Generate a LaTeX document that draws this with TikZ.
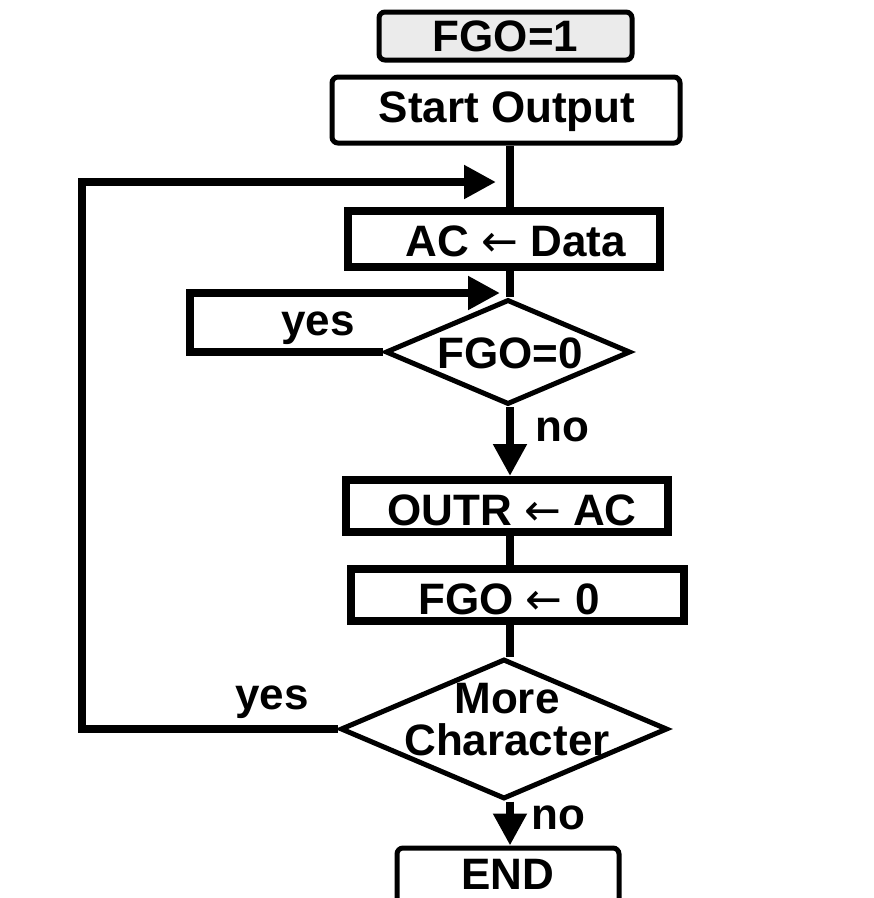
\documentclass[tikz,border=0pt]{standalone}
\usepackage{fontspec}
\setmainfont{Liberation Sans}
\newfontfamily\arrowfont{DejaVu Sans}
\newcommand{\larr}{{\arrowfont\mdseries ←}}
\usetikzlibrary{arrows.meta,shapes.geometric}
\begin{document}
\begin{tikzpicture}[x=1pt,y=-1pt,
  txt/.style={font=\fontsize{44}{46}\selectfont\bfseries, inner sep=0pt},
  boxa/.style={draw, line width=5pt, rounded corners=6pt, inner sep=0pt},
  boxb/.style={draw, line width=8pt, inner sep=0pt},
  dia/.style={draw, diamond, line width=5pt, inner sep=0pt},
  conn/.style={line width=8pt},
  arr/.style={line width=8pt, -{Triangle[length=32pt,width=32pt]}}]
\useasboundingbox (0,0) rectangle (874,898);
\clip (0,0) rectangle (874,898);
% nodes
\node[boxa, fill=black!8, minimum width=253pt, minimum height=48pt] (fgo1) at (505.5,36) {};
\node[txt] at (fgo1) {FGO=1};
\node[boxa, minimum width=348pt, minimum height=66pt] (start) at (506,110) {};
\node[txt] at (507,112) {Start Output};
\node[boxb, minimum width=312pt, minimum height=56pt] (acd) at (504,239) {};
\node[txt] at (516,241) {AC \larr{} Data};
\node[dia, minimum width=245pt, minimum height=105pt] (q1) at (508,352) {};
\node[txt] at (510,353) {FGO=0};
\node[boxb, minimum width=322pt, minimum height=52pt] (outr) at (507,506) {};
\node[txt] at (512,510) {OUTR \larr{} AC};
\node[boxb, minimum width=333pt, minimum height=52pt] (fgo0) at (517,595) {};
\node[txt] at (509,599) {FGO \larr{} 0};
\node[dia, minimum width=327pt, minimum height=140pt] (q2) at (504,729) {};
\node[txt, align=center] at (507,720) {More\\[-4pt]Character};
\node[boxa, minimum width=222pt, minimum height=70pt] (endn) at (508,883) {};
\node[txt] at (508,874) {END};
% labels
\node[txt] (yes1) at (318,328) {yes};
\node[txt] (no1) at (562,430) {no};
\node[txt] (yes2) at (272,702) {yes};
\node[txt] (no2) at (558,818) {no};
% helper coordinates
\coordinate (t1) at (496,182);
\coordinate (t2) at (500,293);
\coordinate (c1) at (82,182);
\coordinate (c2) at (82,729);
\coordinate (d1) at (190,293);
\coordinate (d2) at (190,352);
% connectors
\draw[conn] (start.south -| 510,0) -- (acd.north -| 510,0);
\draw[conn] (acd.south -| 510,0) -- (q1.north -| 510,0);
\draw[arr] (q1.south -| 510,0) -- (outr.north -| 510,0);
\draw[conn] (outr.south -| 510,0) -- (fgo0.north -| 510,0);
\draw[conn] (fgo0.south -| 510,0) -- (q2.north -| 510,0);
\draw[arr] (q2.south -| 510,0) -- (endn.north -| 510,0);
\draw[arr] (q1.west) -- (d2) -- (d1) -- (t2);
\draw[arr] (q2.west) -- (c2) -- (c1) -- (t1);
\end{tikzpicture}
\end{document}
